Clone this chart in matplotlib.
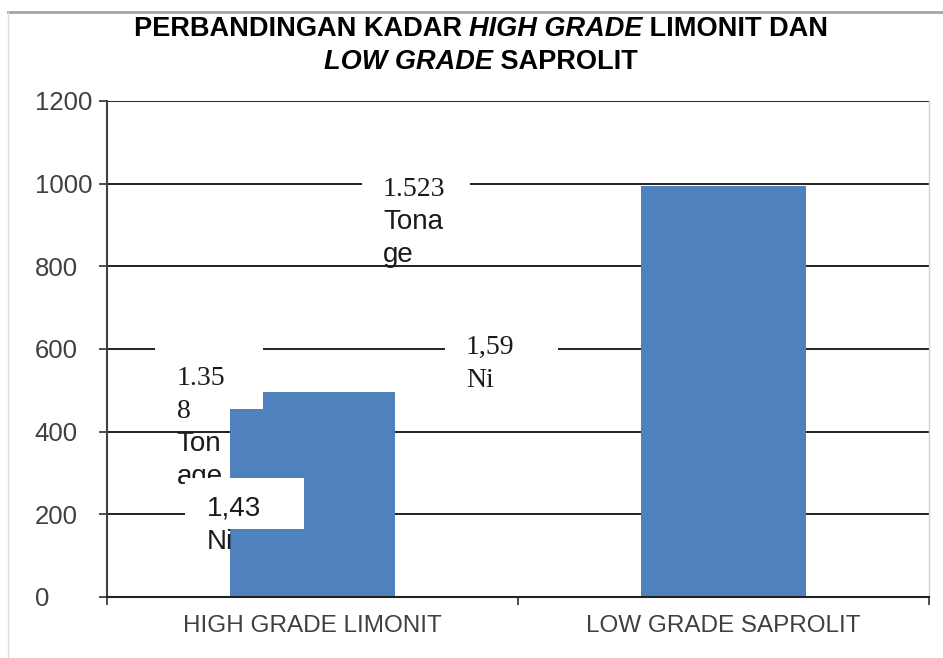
import matplotlib
matplotlib.use('Agg')
import matplotlib.pyplot as plt
from matplotlib.patches import Rectangle
from matplotlib.lines import Line2D

# Data
categories = ['HIGH GRADE LIMONIT', 'LOW GRADE SAPROLIT']
values = [495, 995]
yticks = [0, 200, 400, 600, 800, 1000, 1200]

# Data labels as printed (wrapped inside narrow text frames in the original)
label_lines = [
    [('1.35', 'serif'), ('8', 'serif'), ('Ton', 'sans'), ('age', 'sans')],
    [('1,43', 'sans'), ('Ni', 'sans')],
    [('1.523', 'serif'), ('Tona', 'sans'), ('ge', 'sans')],
    [('1,59', 'serif'), ('Ni', 'serif')],
]
label_x = [-0.33, -0.257, 0.1715, 0.3735]
label_y = [513, 196, 970, 588]
# white text frames behind the labels: (x0, x1, y0, y1) in data units
frames = [
    (-0.383, -0.1204, 455, 620),
    (-0.310, -0.0207, 164, 288),
    (0.1204, 0.383, 960, 1030),
    (0.3224, 0.5973, 480, 640),
]

SANS = 'Liberation Sans'
SERIF = 'Liberation Serif'
BLUE = '#4F81BD'
DARK = '#404040'

fig = plt.figure(figsize=(9.43, 6.58), dpi=100)
ax = fig.add_axes([107 / 943, 1 - 597 / 658, 822 / 943, 496 / 658])

x = list(range(len(categories)))
ax.bar(x, values, width=0.4, color=BLUE, zorder=2)

ax.set_xlim(-0.5, 1.5)
ax.set_ylim(0, 1200)
ax.set_yticks(yticks)
ax.yaxis.grid(True, color='#111111', lw=1.3, zorder=0.5)
ax.set_axisbelow(True)

ax.set_xticks(x)
ax.set_xticklabels(categories, fontsize=17.5, color=DARK, fontname=SANS)
ax.set_xticks([-0.5, 0.5, 1.5], minor=True)
ax.tick_params(axis='x', which='major', length=0, pad=13)
ax.tick_params(axis='x', which='minor', length=6, width=1.3, color=DARK, direction='out')
# y labels are left aligned in the original
ax.tick_params(axis='y', length=6, width=1.3, color=DARK, direction='out', pad=46,
               labelsize=18.5, labelcolor=DARK)
for t in ax.get_yticklabels():
    t.set_fontname(SANS)
    t.set_horizontalalignment('left')

ax.spines['top'].set_visible(False)
ax.spines['right'].set_color('#d0d0d0')
ax.spines['right'].set_linewidth(1)
ax.spines['left'].set_color(DARK)
ax.spines['left'].set_linewidth(1.5)
ax.spines['bottom'].set_color('#222222')
ax.spines['bottom'].set_linewidth(1.5)

# label frames and texts, layered the way the original overlaps
step = 33  # line spacing in pixels
for i, lines in enumerate(label_lines):
    x0, x1, y0, y1 = frames[i]
    ax.add_patch(Rectangle((x0, y0), x1 - x0, y1 - y0, facecolor='white',
                           edgecolor='none', zorder=3 + 2 * i, clip_on=False))
    for j, (txt, fam) in enumerate(lines):
        ax.annotate(txt, (label_x[i], label_y[i]), xytext=(0, -j * step),
                    textcoords='offset pixels', ha='left', va='baseline',
                    fontsize=20, color='#1a1a1a',
                    fontname=SERIF if fam == 'serif' else SANS,
                    zorder=4 + 2 * i, annotation_clip=False)

# title with italic parts
title_rows = [
    [('PERBANDINGAN KADAR ', 'normal'), ('HIGH GRADE', 'italic'), (' LIMONIT DAN', 'normal')],
    [('LOW GRADE', 'italic'), (' SAPROLIT', 'normal')],
]
title_baselines = [36, 69]
title_center = 481
renderer = fig.canvas.get_renderer()
for row, base in zip(title_rows, title_baselines):
    pieces = []
    for txt, style in row:
        t = fig.text(0, 1 - base / 658, txt, fontsize=19.5, fontweight='bold',
                     fontstyle=style, fontname=SANS, color='black',
                     ha='left', va='baseline')
        pieces.append(t)
    widths = [p.get_window_extent(renderer).width for p in pieces]
    left = title_center - sum(widths) / 2
    for p, w in zip(pieces, widths):
        p.set_x(left / 943)
        left += w

# thin gray frame of the original page
fig.add_artist(Line2D([8 / 943, 1], [1 - 12 / 658, 1 - 12 / 658],
                      transform=fig.transFigure, color='#a6a6a6', lw=2))
fig.add_artist(Line2D([8 / 943, 8 / 943], [0, 1 - 12 / 658],
                      transform=fig.transFigure, color='#dcdcdc', lw=1))

fig.savefig('out.png', dpi=100)
